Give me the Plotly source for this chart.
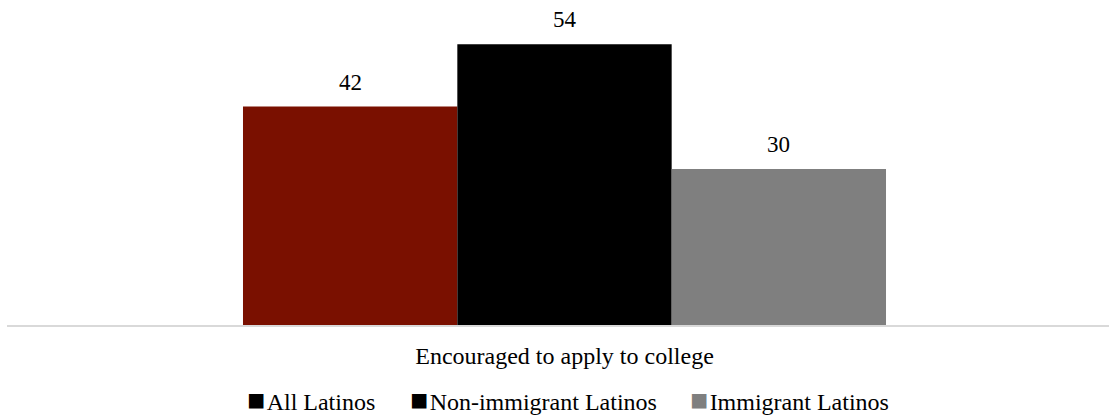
import plotly.graph_objects as go

# Survey result: share encouraged to apply to college, by group
category = ["Encouraged to apply to college"]
series_names = ["All Latinos", "Non-immigrant Latinos", "Immigrant Latinos"]
values = [42, 54, 30]
bar_colors = ["#7a1000", "#000000", "#7f7f7f"]
legend_colors = ["#000000", "#000000", "#7f7f7f"]

FONT = "Liberation Serif"
BAR_PX = 214  # width of one bar in pixels, used to centre the value labels
LEGEND_X = [0.2160, 0.3639, 0.6180]  # left edge of each key, paper fraction

fig = go.Figure()

for name, val, col in zip(series_names, values, bar_colors):
    fig.add_trace(go.Bar(
        x=category, y=[val], name=name,
        marker=dict(color=col, line=dict(width=0)),
        showlegend=False, hoverinfo="skip",
    ))

# Value labels above each bar
for i, val in enumerate(values):
    fig.add_annotation(
        x=category[0], y=val, xref="x", yref="y",
        text=str(val), showarrow=False,
        xshift=(i - 1) * BAR_PX, yshift=10, yanchor="bottom",
        font=dict(family=FONT, size=23, color="#000000"),
    )

# Key below the axis: a coloured square, a thin gap, then the series name
for name, col, lx in zip(series_names, legend_colors, LEGEND_X):
    fig.add_annotation(
        x=lx, y=-0.24, xref="paper", yref="paper",
        xanchor="left", yanchor="middle", showarrow=False,
        text=(f"<span style='color:{col};font-size:30px'>■</span>"
              f"<span style='font-size:6px'> </span>{name}"),
        font=dict(family=FONT, size=24, color="#000000"),
    )

fig.update_layout(
    width=1109, height=416,
    margin=dict(l=7, r=0, t=13, b=91),
    paper_bgcolor="white", plot_bgcolor="white",
    barmode="group", bargap=0.4165, bargroupgap=0,
    font=dict(family=FONT, size=23, color="#000000"),
    showlegend=False,
    xaxis=dict(
        type="category", range=[-0.5059, 0.4941],
        showline=True, linecolor="#d9d9d9", linewidth=2,
        showgrid=False, zeroline=False, ticks="",
        ticklabelstandoff=8,
        tickfont=dict(family=FONT, size=24, color="#000000"),
    ),
    yaxis=dict(
        range=[0, 60], visible=False, showgrid=False, zeroline=False,
    ),
)

fig.write_html("out.html")
